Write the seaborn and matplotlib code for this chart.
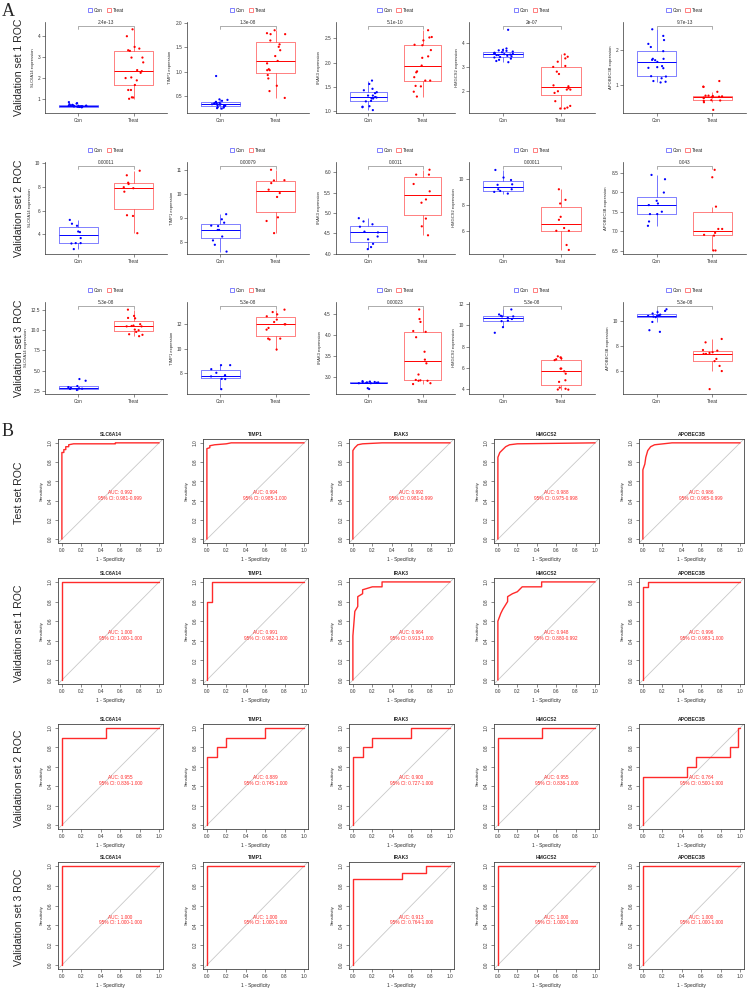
import matplotlib
matplotlib.use("Agg")
import matplotlib.pyplot as plt
import numpy as np
import pandas as pd
import seaborn as sns

genes = ["SLC6A14", "TIMP1", "IRAK3", "HMGCS2", "APOBEC3B"]
box_sets = ["Validation set 1 ROC", "Validation set 2 ROC", "Validation set 3 ROC"]
roc_sets = ["Test set ROC", "Validation set 1 ROC", "Validation set 2 ROC", "Validation set 3 ROC"]

# ---- panel A: expression values ----
v1_slc6a14_con = [0.62, 0.64, 0.65, 0.66, 0.67, 0.68, 0.70, 0.72, 0.75, 0.80, 0.85, 0.63, 0.65, 0.66, 0.60, 0.64, 0.67, 0.62, 0.69, 0.78, 0.66, 0.64]
v1_slc6a14_treat = [4.33, 4.0, 3.49, 3.41, 3.3, 3.33, 2.98, 2.98, 2.75, 2.38, 2.33, 2.25, 2.03, 2.0, 1.89, 1.67, 1.43, 1.43, 1.08, 1.07, 1.01]
v1_timp1_con = [0.91, 0.43, 0.42, 0.40, 0.38, 0.37, 0.36, 0.35, 0.34, 0.33, 0.33, 0.32, 0.31, 0.30, 0.30, 0.29, 0.28, 0.27, 0.26, 0.25, 0.24, 0.35]
v1_timp1_treat = [1.85, 1.79, 1.77, 1.77, 1.64, 1.56, 1.51, 1.44, 1.32, 1.22, 1.17, 1.03, 1.03, 1.05, 0.93, 0.86, 0.71, 0.60, 0.46]
v1_irak3_con = [1.63, 1.56, 1.46, 1.43, 1.39, 1.37, 1.32, 1.32, 1.29, 1.26, 1.26, 1.28, 1.21, 1.20, 1.10, 1.09, 1.08, 1.02]
v1_irak3_treat = [2.67, 2.53, 2.52, 2.46, 2.37, 2.36, 2.26, 2.13, 2.10, 1.94, 1.82, 1.80, 1.70, 1.63, 1.63, 1.52, 1.51, 1.40, 1.30]
v1_hmgcs2_con = [4.57, 3.78, 3.72, 3.70, 3.68, 3.65, 3.62, 3.60, 3.58, 3.56, 3.55, 3.54, 3.52, 3.50, 3.50, 3.47, 3.45, 3.42, 3.40, 3.35, 3.30, 3.20, 3.25]
v1_hmgcs2_treat = [3.53, 3.43, 3.36, 3.22, 3.04, 3.00, 2.80, 2.70, 2.18, 2.22, 2.10, 2.04, 2.04, 1.97, 1.90, 1.55, 1.28, 1.35, 1.24, 1.24]
v1_apobec3b_con = [2.61, 2.42, 2.30, 2.19, 2.10, 1.98, 1.76, 1.76, 1.73, 1.72, 1.67, 1.50, 1.49, 1.52, 1.55, 1.26, 1.25, 1.20, 1.12, 1.10, 1.08]
v1_apobec3b_treat = [1.12, 0.96, 0.95, 0.81, 0.70, 0.69, 0.70, 0.68, 0.66, 0.67, 0.64, 0.65, 0.63, 0.56, 0.57, 0.55, 0.51, 0.29]

v2_slc6a14_con = [5.22, 4.9, 4.73, 4.25, 4.2, 3.7, 3.28, 3.28, 3.25, 2.78]
v2_slc6a14_treat = [9.33, 8.95, 8.33, 8.22, 7.87, 7.95, 7.58, 5.55, 5.61, 4.11]
v2_timp1_con = [9.16, 8.95, 8.81, 8.67, 8.69, 8.51, 8.51, 8.24, 8.08, 7.90, 7.62]
v2_timp1_treat = [10.99, 10.55, 10.56, 10.44, 10.17, 10.03, 9.87, 9.03, 8.88, 8.38]
v2_irak3_con = [4.87, 4.79, 4.72, 4.66, 4.54, 4.52, 4.42, 4.35, 4.24, 4.16, 4.11]
v2_irak3_treat = [6.06, 5.94, 5.94, 5.71, 5.53, 5.33, 5.25, 4.86, 4.67, 4.45]
v2_hmgcs2_con = [10.66, 10.08, 9.89, 9.56, 9.52, 9.18, 9.18, 9.05, 8.98, 8.85]
v2_hmgcs2_treat = [9.18, 8.37, 8.09, 7.07, 6.84, 6.0, 6.0, 6.21, 4.91, 4.53]
v2_apobec3b_con = [8.44, 8.33, 7.99, 7.78, 7.71, 7.67, 7.5, 7.44, 7.44, 7.25, 7.14]
v2_apobec3b_treat = [8.57, 8.38, 7.63, 7.06, 7.06, 6.91, 6.96, 6.89, 6.51, 6.51]

v3_slc6a14_con = [3.95, 3.74, 3.08, 2.8, 2.75, 2.72, 2.59, 2.78, 2.83, 2.95]
v3_slc6a14_treat = [12.58, 11.55, 11.8, 11.5, 10.77, 10.6, 10.5, 10.55, 10.02, 10.1, 9.81, 9.52, 9.45, 9.28, 10.5]
v3_timp1_con = [8.63, 8.63, 8.3, 8.0, 7.8, 7.7, 7.48, 7.5, 7.75, 6.65]
v3_timp1_treat = [13.21, 13.01, 12.82, 12.66, 12.39, 12.19, 12.0, 12.0, 11.7, 11.56, 10.82, 10.75, 10.82, 9.92]
v3_irak3_con = [2.7, 2.72, 2.84, 2.85, 2.86, 2.87, 2.88, 2.89, 2.85, 2.86, 2.84, 2.87]
v3_irak3_treat = [4.62, 4.39, 4.32, 4.1, 4.08, 3.95, 3.6, 3.41, 3.32, 3.05, 2.9, 2.9, 2.91, 2.92, 2.84, 2.82]
v3_hmgcs2_con = [11.5, 11.03, 10.9, 10.85, 10.85, 10.72, 10.4, 10.6, 10.45, 9.84, 9.31]
v3_hmgcs2_treat = [7.1, 7.0, 6.82, 6.9, 6.74, 5.94, 5.95, 5.69, 5.47, 4.85, 4.7, 4.16, 3.97, 3.98, 4.05]
v3_apobec3b_con = [10.93, 10.8, 10.7, 10.59, 10.45, 10.5, 10.4, 10.35, 10.3, 10.4, 9.92, 9.26, 9.13]
v3_apobec3b_treat = [8.56, 8.29, 7.68, 7.63, 7.45, 7.5, 7.37, 7.37, 6.97, 6.79, 6.41, 6.0, 4.56]

v1_pvals = ["2.4e-13", "1.3e-08", "5.1e-10", "2e-07", "9.7e-13"]
v2_pvals = ["0.00011", "0.00079", "0.0011", "0.00011", "0.043"]
v3_pvals = ["5.3e-08", "5.3e-08", "0.00023", "5.3e-08", "5.3e-08"]

v1_ylim = [(0.33, 4.68), (0.15, 2.02), (0.96, 2.84), (1.05, 4.9), (0.2, 2.82)]
v2_ylim = [(2.37, 10.06), (7.52, 11.31), (3.99, 6.25), (4.22, 11.27), (6.42, 8.77)]
v3_ylim = [(2.09, 13.53), (6.25, 13.84), (2.58, 4.8), (3.56, 12.2), (4.17, 11.51)]
v1_ticks = [[1, 2, 3, 4], [0.5, 1.0, 1.5, 2.0], [1.0, 1.5, 2.0, 2.5], [2, 3, 4], [1, 2]]
v2_ticks = [[4, 6, 8, 10], [8, 9, 10, 11], [4.0, 4.5, 5.0, 5.5, 6.0], [6, 8, 10], [6.5, 7.0, 7.5, 8.0, 8.5]]
v3_ticks = [[2.5, 5.0, 7.5, 10.0, 12.5], [8, 10, 12], [3.0, 3.5, 4.0, 4.5], [4, 6, 8, 10, 12], [6, 8, 10]]

# ---- panel B: ROC curves (1 - specificity, sensitivity) ----
test_fpr = [[0, 0, 0.02, 0.02, 0.04, 0.04, 0.07, 0.07, 0.12, 0.55, 0.55, 1],
            [0, 0, 0.03, 0.03, 0.08, 0.2, 0.25, 1],
            [0, 0, 0.02, 0.05, 0.1, 0.3, 1],
            [0, 0, 0.02, 0.05, 0.08, 0.12, 0.2, 1],
            [0, 0, 0.02, 0.03, 0.05, 0.08, 0.12, 0.3, 1]]
test_tpr = [[0, 0.9, 0.9, 0.93, 0.93, 0.96, 0.96, 0.98, 0.99, 0.99, 1, 1],
            [0, 0.94, 0.95, 0.97, 0.98, 0.99, 1, 1],
            [0, 0.92, 0.95, 0.98, 0.99, 1, 1],
            [0, 0.85, 0.9, 0.93, 0.96, 0.98, 0.99, 1],
            [0, 0.72, 0.78, 0.85, 0.92, 0.96, 0.98, 1, 1]]
val1_fpr = [[0, 0, 1],
            [0, 0, 0.05, 0.05, 1],
            [0, 0, 0.02, 0.05, 0.05, 0.1, 0.1, 0.2, 0.3, 0.3, 1],
            [0, 0, 0.03, 0.05, 0.1, 0.1, 0.15, 0.2, 0.25, 0.45, 0.45, 1],
            [0, 0, 0.05, 0.05, 1]]
val1_tpr = [[0, 1, 1],
            [0, 0.8, 0.8, 1, 1],
            [0, 0.45, 0.7, 0.75, 0.85, 0.88, 0.92, 0.95, 0.95, 1, 1],
            [0, 0.6, 0.68, 0.72, 0.8, 0.85, 0.88, 0.9, 0.95, 0.95, 1, 1],
            [0, 0.95, 0.95, 1, 1]]
val2_fpr = [[0, 0, 0.45, 0.45, 1],
            [0, 0, 0.1, 0.1, 0.2, 0.2, 0.6, 0.6, 1],
            [0, 0, 0.1, 0.1, 0.2, 0.2, 0.6, 0.6, 1],
            [0, 0, 0.45, 0.45, 1],
            [0, 0, 0.45, 0.45, 0.55, 0.55, 0.9, 0.9, 0.98, 0.98, 1]]
val2_tpr = [[0, 0.9, 0.9, 1, 1],
            [0, 0.7, 0.7, 0.8, 0.8, 0.9, 0.9, 1, 1],
            [0, 0.7, 0.7, 0.8, 0.8, 0.9, 0.9, 1, 1],
            [0, 0.9, 0.9, 1, 1],
            [0, 0.5, 0.5, 0.6, 0.6, 0.7, 0.7, 0.8, 0.8, 1, 1]]
val3_fpr = [[0, 0, 1],
            [0, 0, 1],
            [0, 0, 0.5, 0.5, 0.75, 0.75, 1],
            [0, 0, 1],
            [0, 0, 1]]
val3_tpr = [[0, 1, 1],
            [0, 1, 1],
            [0, 0.87, 0.87, 0.93, 0.93, 1, 1],
            [0, 1, 1],
            [0, 1, 1]]

test_auc = ["0.992", "0.994", "0.992", "0.988", "0.986"]
test_ci = ["0.981-0.999", "0.985-1.000", "0.981-0.999", "0.975-0.998", "0.965-0.999"]
val1_auc = ["1.000", "0.991", "0.964", "0.948", "0.996"]
val1_ci = ["1.000-1.000", "0.982-1.000", "0.913-1.000", "0.880-0.992", "0.983-1.000"]
val2_auc = ["0.955", "0.889", "0.900", "0.955", "0.764"]
val2_ci = ["0.836-1.000", "0.745-1.000", "0.727-1.000", "0.836-1.000", "0.500-1.000"]
val3_auc = ["1.000", "1.000", "0.913", "1.000", "1.000"]
val3_ci = ["1.000-1.000", "1.000-1.000", "0.764-1.000", "1.000-1.000", "1.000-1.000"]

# ---- drawing ----
sns.set_style("white")
plt.rcParams["font.family"] = ["Liberation Sans", "DejaVu Sans"]

W, H = 748, 992
fig = plt.figure(figsize=(W / 100, H / 100), dpi=100)


def px_axes(left, top, right, bottom):
    return fig.add_axes([left / W, 1 - bottom / H, (right - left) / W, (bottom - top) / H])


box_pal = {"Con": "#0000FF", "Treat": "#FF0000"}
box_left = [45, 187, 336, 469, 623]
box_right = [167, 309, 455, 595, 746]
box_rows = [(22, 113), (162, 254), (302, 394)]
roc_left = [58, 203, 349, 494, 639]
roc_w = 105
roc_rows = [(439, 543), (578, 684), (724, 829), (862, 969)]


def box_panel(ax, con, treat, gene, ylim, ticks, pval):
    df = pd.DataFrame({"group": ["Con"] * len(con) + ["Treat"] * len(treat),
                       "value": con + treat})
    sns.boxplot(data=df, x="group", y="value", hue="group", palette=box_pal,
                fill=False, width=0.7, linewidth=0.7, showfliers=False, showcaps=False,
                boxprops=dict(alpha=0.5), whiskerprops=dict(alpha=0.55),
                ax=ax, legend=True)
    sns.stripplot(data=df, x="group", y="value", hue="group", palette=box_pal,
                  size=1.6, jitter=0.18, linewidth=0, legend=False, ax=ax)
    ax.set_xlim(-0.6, 1.6)
    ax.set_ylim(*ylim)
    ax.set_yticks(ticks)
    if all(float(t).is_integer() for t in ticks):
        ax.set_yticklabels([f"{t:g}" for t in ticks])
    else:
        ax.set_yticklabels([f"{t:.1f}" for t in ticks])
    ax.set_xlabel("")
    ax.set_ylabel(f"{gene} expression", fontsize=3.0, labelpad=2)
    for s in ["top", "right"]:
        ax.spines[s].set_visible(False)
    for s in ["left", "bottom"]:
        ax.spines[s].set_linewidth(0.5)
        ax.spines[s].set_color("#333333")
    ax.tick_params(labelsize=3.4, length=2, width=0.4, pad=1.5, colors="#333333",
                   left=True, bottom=True)
    # comparison bracket
    tr = ax.get_xaxis_transform()
    ax.plot([0, 0, 1, 1], [0.925, 0.955, 0.955, 0.925], transform=tr,
            color="#8c8c8c", lw=0.5, clip_on=False)
    ax.text(0.5, 0.965, pval, transform=tr, ha="center", va="bottom",
            fontsize=3.4, color="#333333")
    sns.move_legend(ax, "center", bbox_to_anchor=(0.5, 1.13), ncol=2, title=None,
                    frameon=False, fontsize=3.4, handlelength=1.0, handleheight=0.7,
                    columnspacing=0.8, handletextpad=0.4)


def roc_panel(ax, fpr, tpr, gene, auc, ci):
    df = pd.DataFrame({"fpr": fpr, "tpr": tpr})
    ax.axline((0, 0), (1, 1), color="#c8c8c8", lw=0.6)
    sns.lineplot(data=df, x="fpr", y="tpr", sort=False, estimator=None,
                 color="#ff2a2a", lw=1.0, ax=ax)
    ax.set_xlim(-0.04, 1.04)
    ax.set_ylim(-0.04, 1.04)
    t = [0, 0.2, 0.4, 0.6, 0.8, 1.0]
    ax.set_xticks(t)
    ax.set_yticks(t)
    ax.set_xticklabels([f"{v:.1f}" for v in t])
    ax.set_yticklabels([f"{v:.1f}" for v in t], rotation=90, va="center")
    ax.set_xlabel("1 - Specificity", fontsize=3.4, labelpad=2.5)
    ax.set_ylabel("Sensitivity", fontsize=3.2, labelpad=3)
    ax.set_title(gene, fontsize=3.6, fontweight="bold", pad=2.5)
    for s in ax.spines.values():
        s.set_linewidth(0.6)
        s.set_color("#444444")
    ax.tick_params(labelsize=3.4, length=2.2, width=0.4, pad=1.5, colors="#333333",
                   left=True, bottom=True)
    ax.text(0.6, 0.455, f"AUC: {auc}\n95% CI: {ci}", ha="center", va="center",
            fontsize=3.4, color="#ff2a2a", linespacing=1.2)


np.random.seed(3)
box_data = [
    [(v1_slc6a14_con, v1_slc6a14_treat), (v1_timp1_con, v1_timp1_treat), (v1_irak3_con, v1_irak3_treat),
     (v1_hmgcs2_con, v1_hmgcs2_treat), (v1_apobec3b_con, v1_apobec3b_treat)],
    [(v2_slc6a14_con, v2_slc6a14_treat), (v2_timp1_con, v2_timp1_treat), (v2_irak3_con, v2_irak3_treat),
     (v2_hmgcs2_con, v2_hmgcs2_treat), (v2_apobec3b_con, v2_apobec3b_treat)],
    [(v3_slc6a14_con, v3_slc6a14_treat), (v3_timp1_con, v3_timp1_treat), (v3_irak3_con, v3_irak3_treat),
     (v3_hmgcs2_con, v3_hmgcs2_treat), (v3_apobec3b_con, v3_apobec3b_treat)],
]
box_ylims = [v1_ylim, v2_ylim, v3_ylim]
box_ticks = [v1_ticks, v2_ticks, v3_ticks]
box_pvals = [v1_pvals, v2_pvals, v3_pvals]

for r, (top, bottom) in enumerate(box_rows):
    for c, gene in enumerate(genes):
        ax = px_axes(box_left[c], top, box_right[c], bottom)
        con, treat = box_data[r][c]
        box_panel(ax, con, treat, gene, box_ylims[r][c], box_ticks[r][c], box_pvals[r][c])
    fig.text(19 / W, 1 - (top + bottom) / 2 / H, box_sets[r], rotation=90,
             ha="center", va="center", fontsize=7.6)

roc_fprs = [test_fpr, val1_fpr, val2_fpr, val3_fpr]
roc_tprs = [test_tpr, val1_tpr, val2_tpr, val3_tpr]
roc_aucs = [test_auc, val1_auc, val2_auc, val3_auc]
roc_cis = [test_ci, val1_ci, val2_ci, val3_ci]

for r, (top, bottom) in enumerate(roc_rows):
    for c, gene in enumerate(genes):
        ax = px_axes(roc_left[c], top, roc_left[c] + roc_w, bottom)
        roc_panel(ax, roc_fprs[r][c], roc_tprs[r][c], gene, roc_aucs[r][c], roc_cis[r][c])
    fig.text(19 / W, 1 - ((top + bottom) / 2 + 2) / H, roc_sets[r], rotation=90,
             ha="center", va="center", fontsize=7.6)

fig.text(2 / W, 1 - 12 / H, "A", fontsize=13, family="Liberation Serif", va="center", ha="left")
fig.text(2 / W, 1 - 432 / H, "B", fontsize=13, family="Liberation Serif", va="center", ha="left")

fig.savefig("out.png", dpi=100)
